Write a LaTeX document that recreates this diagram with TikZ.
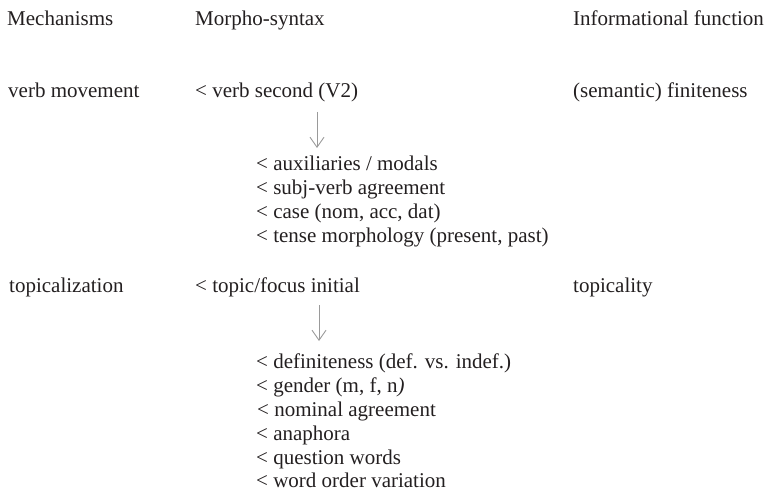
\documentclass[tikz,border=0pt]{standalone}
\usepackage{fontspec}
\setmainfont{Liberation Serif}
\usetikzlibrary{arrows.meta}
\definecolor{ink}{HTML}{231F20}
\definecolor{arrowgrey}{HTML}{9A9A9A}
\begin{document}
\begin{tikzpicture}[x=1pt,y=-1pt,
  lbl/.style={anchor=base west,inner sep=0pt,text=ink,font=\fontsize{21}{24}\selectfont},
  flow/.style={draw=arrowgrey,line width=0.9pt,-{Straight Barb[length=10pt,width=14pt,line width=0.9pt]}}]
\useasboundingbox (0,0) rectangle (768,494);
% column headings
\node[lbl] (h1) at (7,26) {Mechanisms};
\node[lbl] (h2) at (195,26) {Morpho-syntax};
\node[lbl] (h3) at (573,26) {Informational function};
% verb movement row
\node[lbl] (m1) at (8,98) {verb movement};
\node[lbl] (s1) at (195,98) {< verb second (V2)};
\node[lbl] (f1) at (573,98) {(semantic) finiteness};
\coordinate (a1s) at (317,112);
\coordinate (a1e) at (317,148);
\draw[flow] (a1s) -- (a1e);
\node[lbl] (l11) at (256,171) {< auxiliaries / modals};
\node[lbl] (l12) at (256,195) {< subj-verb agreement};
\node[lbl] (l13) at (256,219) {< case (nom, acc, dat)};
\node[lbl] (l14) at (256,243) {< tense morphology (present, past)};
% topicalization row
\node[lbl] (m2) at (9,293) {topicalization};
\node[lbl] (s2) at (195,293) {< topic/focus initial};
\node[lbl] (f2) at (573,293) {topicality};
\coordinate (a2s) at (319,305);
\coordinate (a2e) at (319,341);
\draw[flow] (a2s) -- (a2e);
\node[lbl] (l21) at (256,368) {< definiteness (def. vs. indef.)};
\node[lbl] (l22) at (256,392) {< gender (m, f, n\textit{)}};
\node[lbl] (l23) at (257,416) {< nominal agreement};
\node[lbl] (l24) at (256,440) {< anaphora};
\node[lbl] (l25) at (256,464) {< question words};
\node[lbl] (l26) at (256,487) {< word order variation};
\end{tikzpicture}
\end{document}
